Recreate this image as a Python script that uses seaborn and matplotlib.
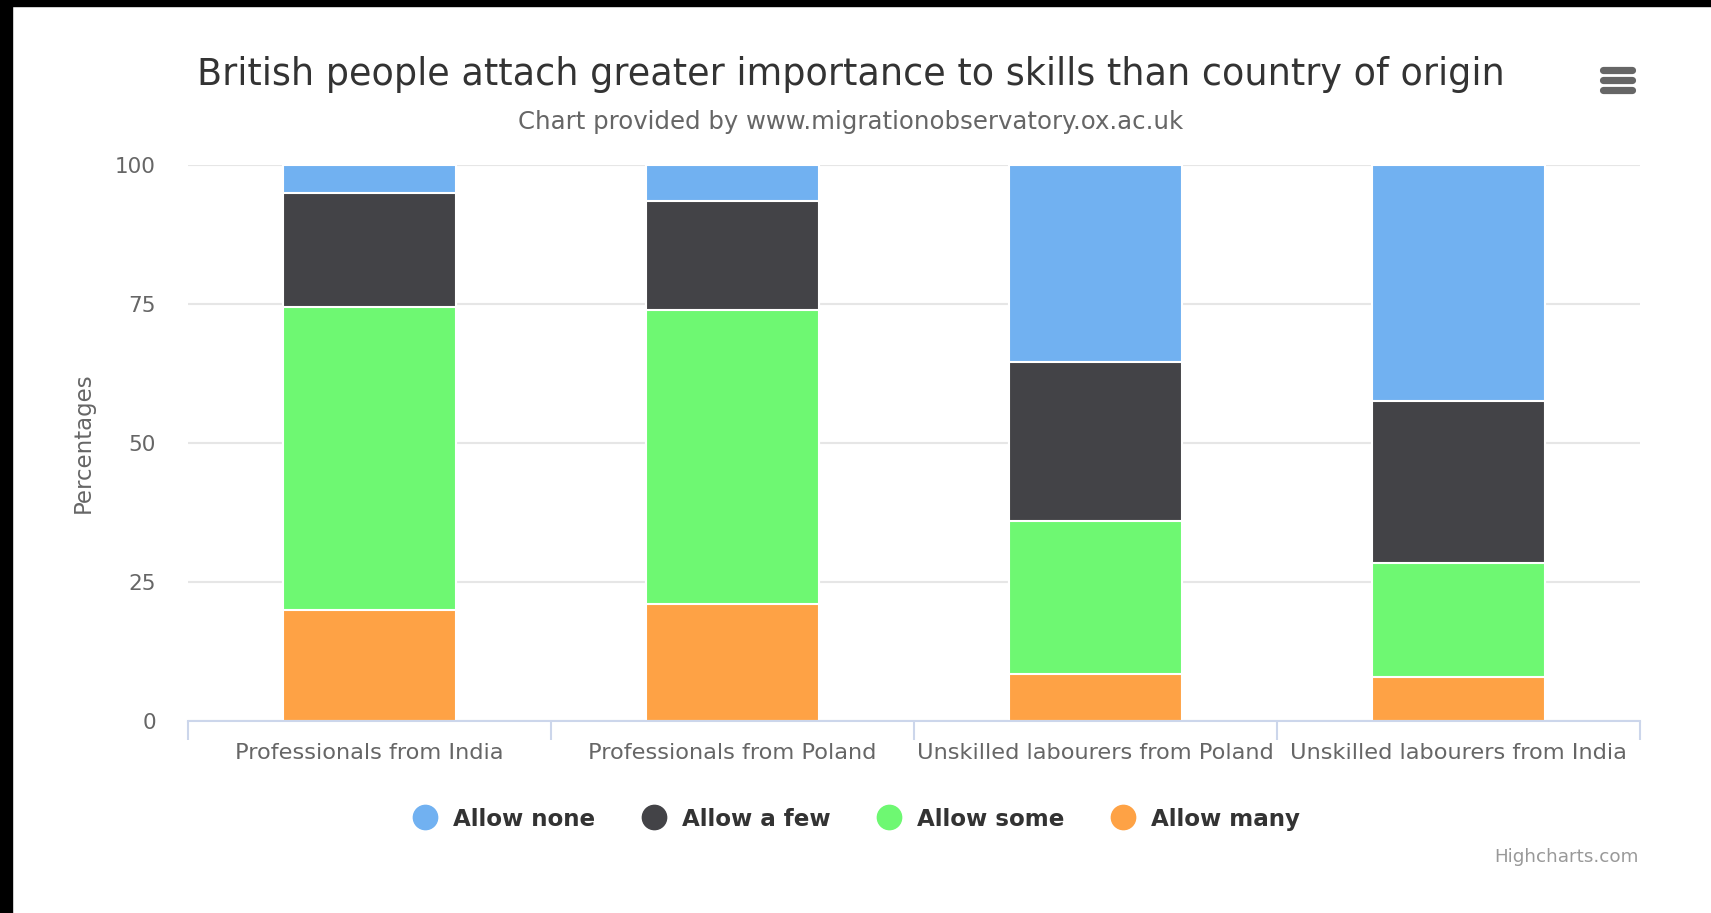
import matplotlib
matplotlib.use("Agg")
import matplotlib.pyplot as plt
from matplotlib.lines import Line2D
from matplotlib.patches import Rectangle
import numpy as np
import pandas as pd
import seaborn as sns

# data (percent of respondents)
categories = ["Professionals from India", "Professionals from Poland",
              "Unskilled labourers from Poland", "Unskilled labourers from India"]
series_names = ["Allow none", "Allow a few", "Allow some", "Allow many"]
allow_none = [5, 6.5, 35.5, 42.5]
allow_few = [20.5, 19.5, 28.5, 29]
allow_some = [54.5, 53, 27.5, 20.5]
allow_many = [20, 21, 8.5, 8]
colors = ["#71b1f1", "#434347", "#6ef872", "#fea245"]
y_ticks = [0, 25, 50, 75, 100]

df = pd.DataFrame({"category": categories, "Allow none": allow_none,
                   "Allow a few": allow_few, "Allow some": allow_some,
                   "Allow many": allow_many})

sns.set_theme(style="white")
plt.rcParams["font.family"] = ["DejaVu Sans"]

W, H = 1711, 913
fig = plt.figure(figsize=(W / 100, H / 100), dpi=100)
fig.patch.set_facecolor("white")
ax = fig.add_axes([188 / W, 1 - 721 / H, (1640 - 188) / W, (721 - 165) / H])

# stack from bottom: many, some, few, none -> draw cumulative tops largest first
stack_order = ["Allow many", "Allow some", "Allow a few", "Allow none"]
cum = df[stack_order].cumsum(axis=1)
for name in reversed(stack_order):
    sns.barplot(x=df["category"], y=cum[name], color=colors[series_names.index(name)],
                width=0.477, edgecolor="white", linewidth=1.5, saturation=1, ax=ax)

ax.set_xlim(-0.5, 3.5)
ax.set_ylim(0, 100)
ax.set_yticks(y_ticks)
ax.set_yticklabels([str(t) for t in y_ticks], color="#666666", fontsize=15.5)
ax.grid(axis="y", color="#e6e6e6", linewidth=1.5)
ax.set_axisbelow(True)
for s in ["top", "right", "left"]:
    ax.spines[s].set_visible(False)
ax.spines["bottom"].set_color("#ccd6eb")
ax.spines["bottom"].set_linewidth(1.5)
ax.tick_params(axis="y", length=0, pad=23)
ax.tick_params(axis="x", which="major", length=0, pad=16, labelsize=16.2, labelcolor="#666666")
ax.set_xticks(np.arange(-0.5, 4, 1), minor=True)
ax.tick_params(axis="x", which="minor", bottom=True, length=14, width=1.5, color="#ccd6eb")
ax.set_xlabel("")
ax.set_ylabel("Percentages", color="#666666", fontsize=16.5, va="center")
ax.yaxis.set_label_coords((83 - 188) / (1640 - 188), 0.5)

fig.text(851 / W, 1 - 74 / H, "British people attach greater importance to skills than country of origin",
         ha="center", va="center", fontsize=26.3, color="#333333")
fig.text(851 / W, 1 - 122 / H, "Chart provided by www.migrationobservatory.ox.ac.uk",
         ha="center", va="center", fontsize=17.6, color="#666666")
fig.text(1639 / W, 1 - 857 / H, "Highcharts.com", ha="right", va="center",
         fontsize=13.2, color="#999999")

handles = [Line2D([], [], marker="o", linestyle="", markersize=17.5, color=c) for c in colors]
leg = fig.legend(handles, series_names, loc="center", bbox_to_anchor=(851 / W, 1 - 819 / H),
                 ncol=4, frameon=False, handletextpad=0.2, columnspacing=1.55,
                 prop={"weight": "bold", "size": 16.6})
for t in leg.get_texts():
    t.set_color("#333333")

# export menu icon
for yy in [70, 80, 90]:
    fig.add_artist(Line2D([1603 / W, 1632 / W], [1 - yy / H, 1 - yy / H], color="#666666",
                          linewidth=5.2, solid_capstyle="round"))

# black frame strips from the screenshot
fig.add_artist(Rectangle((0, 0), 12 / W, 1, transform=fig.transFigure, color="black"))
fig.add_artist(Rectangle((0, 1 - 6 / H), 1, 6 / H, transform=fig.transFigure, color="black"))

fig.savefig("out.png", dpi=100)
